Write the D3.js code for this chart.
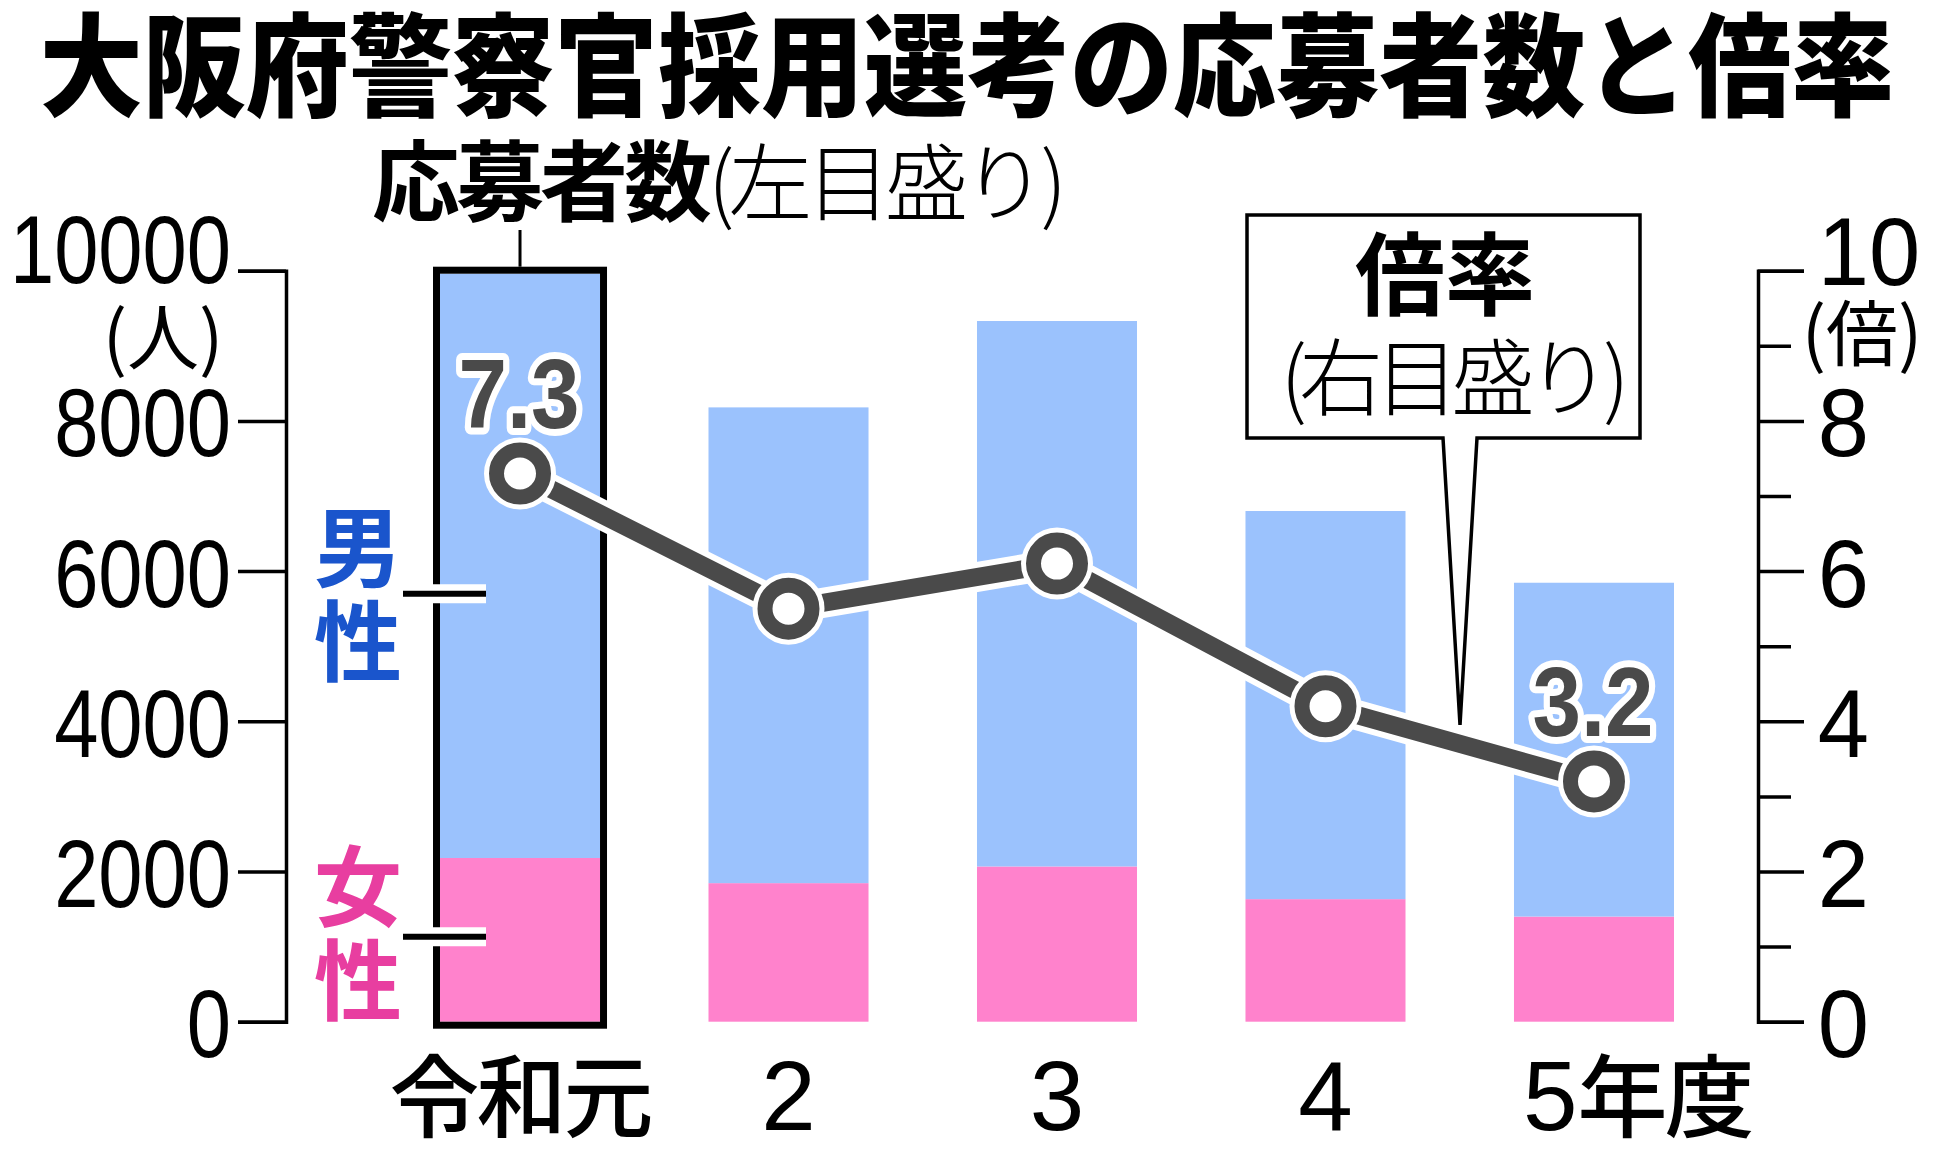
<!DOCTYPE html>
<html>
<head>
<meta charset="utf-8">
<script src="https://cdn.jsdelivr.net/npm/d3@7"></script>
<style>body{margin:0;background:#fff}</style>
</head>
<body>
<div id="chart"></div>
<script>
const categories = ["令和元", "2", "3", "4", "5年度"];
const women = [2180, 1845, 2067, 1632, 1400];
const men = [7780, 6335, 7263, 5168, 4445];
const ratio = [7.3, 5.5, 6.1, 4.2, 3.2];
const countTicks = [0, 2000, 4000, 6000, 8000, 10000];
const ratioTicks = [0, 1, 2, 3, 4, 5, 6, 7, 8, 9, 10];

const width = 1938, height = 1158;
const JP = '"Noto Sans CJK JP", sans-serif';
const NUM = '"Liberation Sans", Arial, sans-serif';
const blue = "#9bc2fd", pink = "#ff82cc", dark = "#4a4a4a";

const svg = d3.select("#chart").append("svg")
  .attr("width", width)
  .attr("height", height)
  .style("display", "block");

const x = d3.scaleBand().domain(categories).range([440, 1674]).paddingInner(0.404).paddingOuter(0);
const y = d3.scaleLinear().domain([0, 10000]).range([1021.7, 270.7]);
const yR = d3.scaleLinear().domain([0, 10]).range([1021.7, 270.7]);
const cx = c => x(c) + x.bandwidth() / 2;

function txt(parent, px, py, s, o) {
  return parent.append("text")
    .attr("transform", `translate(${px},${py}) scale(${o.sx || 1},1)`)
    .attr("text-anchor", o.anchor || "start")
    .attr("font-family", o.family || JP)
    .attr("font-size", o.size)
    .attr("font-weight", o.weight || 400)
    .attr("letter-spacing", o.ls || 0)
    .attr("fill", o.fill || "#000")
    .text(s);
}

// title
txt(svg, 967, 108, "大阪府警察官採用選考の応募者数と倍率", {anchor: "middle", size: 112, weight: 900, sx: 0.92});

// left axis
const axL = svg.append("g")
  .attr("transform", "translate(286,0)")
  .call(d3.axisLeft(y).tickValues(countTicks).tickSize(48).tickFormat(d3.format("d")));
axL.selectAll("path, line").attr("stroke", "#000").attr("stroke-width", 3.5);
axL.selectAll("text")
  .attr("font-family", NUM).attr("font-size", 97).attr("fill", "#000")
  .attr("x", -67).attr("dy", d => d === 10000 ? "0.12em" : "0.36em")
  .attr("transform", "scale(0.82,1)");
txt(svg, 163, 364, "(人)", {anchor: "middle", size: 72});

// right axis
const axR = svg.append("g")
  .attr("transform", "translate(1758,0)")
  .call(d3.axisRight(yR).tickValues(ratioTicks).tickSize(46).tickFormat(d => d % 2 ? "" : d));
axR.selectAll("path, line").attr("stroke", "#000").attr("stroke-width", 3.5);
axR.selectAll(".tick line").attr("x2", d => d % 2 ? 33 : 46);
axR.selectAll("text")
  .attr("font-family", NUM).attr("font-size", 97).attr("fill", "#000")
  .attr("text-anchor", "start")
  .attr("x", 63).attr("dy", d => d === 10 ? "0.14em" : "0.36em")
  .attr("transform", "scale(0.95,1)");
txt(svg, 1862, 360, "(倍)", {anchor: "middle", size: 72});

// stacked bars
const rows = categories.map((c, i) => ({cat: c, women: women[i], men: men[i]}));
const series = d3.stack().keys(["women", "men"])(rows);
const colors = {women: pink, men: blue};

svg.append("g").selectAll("g")
  .data(series)
  .join("g")
  .attr("fill", s => colors[s.key])
  .selectAll("rect")
  .data(s => s)
  .join("rect")
  .attr("x", d => x(d.data.cat))
  .attr("y", d => y(d[1]))
  .attr("width", x.bandwidth())
  .attr("height", d => y(d[0]) - y(d[1]));

// outline on first bar
const first = rows[0];
svg.append("rect")
  .attr("x", x(first.cat) - 3.5)
  .attr("y", y(first.women + first.men) - 3.5)
  .attr("width", x.bandwidth() + 7)
  .attr("height", y(0) - y(first.women + first.men) + 7)
  .attr("fill", "none")
  .attr("stroke", "#000")
  .attr("stroke-width", 7);

// header for counts
const head = svg.append("text")
  .attr("x", 372).attr("y", 214)
  .attr("font-family", JP).attr("fill", "#000");
head.append("tspan").attr("font-size", 88).attr("font-weight", 700).attr("letter-spacing", -4).text("応募者数");
head.append("tspan").attr("font-size", 84).attr("font-weight", 300).attr("letter-spacing", -6).text("(左目盛り)");
svg.append("line")
  .attr("x1", cx(first.cat)).attr("x2", cx(first.cat))
  .attr("y1", 230).attr("y2", y(first.women + first.men) - 7)
  .attr("stroke", "#000").attr("stroke-width", 3);

// men / women labels
const legend = [
  {chars: ["男", "性"], top: 580, lead: y(5700), color: "#1a55cc"},
  {chars: ["女", "性"], top: 919, lead: y(1130), color: "#e83ea0"}
];
legend.forEach(l => {
  l.chars.forEach((c, i) => txt(svg, 358, l.top + i * 94, c, {anchor: "middle", size: 88, weight: 700, fill: l.color}));
  svg.append("line").attr("x1", 403).attr("x2", 486).attr("y1", l.lead).attr("y2", l.lead)
    .attr("stroke", "#fff").attr("stroke-width", 19);
  svg.append("line").attr("x1", 403).attr("x2", 486).attr("y1", l.lead).attr("y2", l.lead)
    .attr("stroke", "#000").attr("stroke-width", 6);
});

// callout for ratio
svg.append("path")
  .attr("d", "M1443,438 L1247,438 L1247,215 L1640,215 L1640,438 L1477,438 L1460,725 Z")
  .attr("fill", "#fff").attr("stroke", "#000").attr("stroke-width", 3.5);
txt(svg, 1445, 308, "倍率", {anchor: "middle", size: 90, weight: 700});
txt(svg, 1451, 409, "(右目盛り)", {anchor: "middle", size: 84, weight: 300, ls: -8});

// ratio line
const pts = ratio.map((v, i) => [cx(categories[i]), yR(v)]);
const line = d3.line();
svg.append("path").attr("d", line(pts)).attr("fill", "none")
  .attr("stroke", "#fff").attr("stroke-width", 30).attr("stroke-linejoin", "round");
svg.append("path").attr("d", line(pts)).attr("fill", "none")
  .attr("stroke", dark).attr("stroke-width", 18).attr("stroke-linejoin", "round");
const dots = svg.append("g").selectAll("g").data(pts).join("g")
  .attr("transform", d => `translate(${d[0]},${d[1]})`);
dots.append("circle").attr("r", 36).attr("fill", "#fff");
dots.append("circle").attr("r", 23.5).attr("fill", "#fff").attr("stroke", dark).attr("stroke-width", 15);

// value labels for first and last
[0, ratio.length - 1].forEach(i => {
  txt(svg, pts[i][0] - 1, pts[i][1] - 45, ratio[i].toFixed(1), {anchor: "middle", size: 99, weight: 700, family: NUM, sx: 0.88, fill: dark})
    .attr("stroke", "#fff").attr("stroke-width", 14).attr("stroke-linejoin", "round").attr("paint-order", "stroke");
});

// category labels
categories.forEach((c, i) => {
  const last = i === categories.length - 1;
  const t = svg.append("text")
    .attr("x", last ? cx(c) - 71 : cx(c))
    .attr("y", 1130)
    .attr("text-anchor", last ? "start" : "middle")
    .attr("fill", "#000");
  const parts = c.match(/\d+|\D+/g);
  parts.forEach(p => {
    if (/\d/.test(p)) t.append("tspan").attr("font-family", NUM).attr("font-size", 98).text(p);
    else t.append("tspan").attr("font-family", JP).attr("font-size", 90).attr("font-weight", 500).attr("letter-spacing", -3).text(p);
  });
});
</script>
</body>
</html>
